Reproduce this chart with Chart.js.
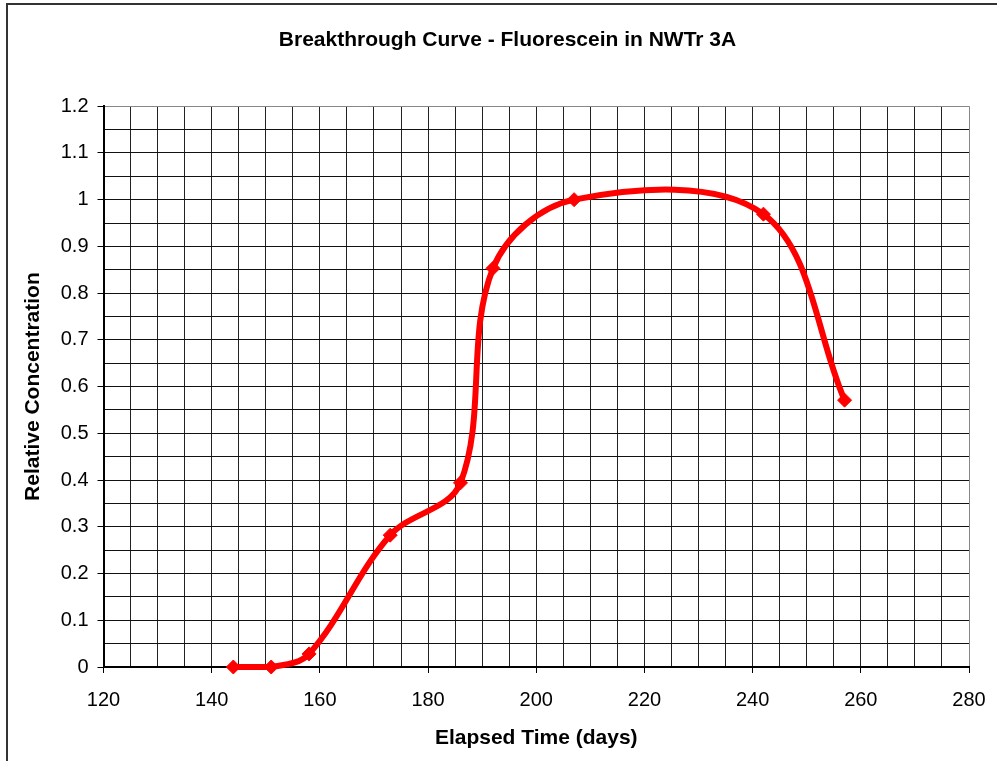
<!DOCTYPE html>
<html>
<head>
<meta charset="utf-8">
<script src="https://cdn.jsdelivr.net/npm/chart.js@4/dist/chart.umd.min.js"></script>
<style>
  html, body { margin: 0; padding: 0; background: #fff; overflow: hidden; }
  #frame {
    position: absolute; left: 6px; top: 3px; width: 1200px; height: 1200px;
    border-left: 2px solid #333; border-top: 2px solid #333;
  }
  #wrap { position: absolute; left: 0; top: 0; width: 1015px; height: 761px; }
</style>
</head>
<body>
<div id="frame"></div>
<div id="wrap"><canvas id="graph"></canvas></div>
<script>
// elapsed time (days) and relative concentration
const days = [144, 151, 158, 173, 186, 192, 207, 242, 257];
const concentration = [0, 0, 0.028, 0.282, 0.394, 0.853, 1.0, 0.969, 0.571];

const xMin = 120, xMax = 280, xStep = 5, xLabelStep = 20;
const yMin = 0, yMax = 1.2, yStep = 0.05, yLabelStep = 0.1;

const title = 'Breakthrough Curve - Fluorescein in NWTr 3A';
const xTitle = 'Elapsed Time (days)';
const yTitle = 'Relative Concentration';

const fontFamily = 'Liberation Sans, Arial';

function isMultiple(v, step) {
    const r = v / step;
    return Math.abs(r - Math.round(r)) < 1e-6;
}

window.addEventListener('DOMContentLoaded', () => {
    const graph = document.getElementById('graph');
    const points = days.map((d, i) => ({x: d, y: concentration[i]}));

    new Chart(graph, {
        type: 'scatter',
        data: {
            datasets: [{
                label: 'Fluorescein',
                data: points,
                showLine: true,
                tension: 0.35,
                clip: false,
                borderColor: '#ff0000',
                borderWidth: 6,
                pointStyle: 'rectRot',
                pointRadius: 7,
                pointBackgroundColor: '#ff0000',
                pointBorderColor: '#ff0000',
                pointBorderWidth: 1
            }]
        },
        options: {
            responsive: true,
            maintainAspectRatio: false,
            animation: false,
            layout: {padding: {left: 0, right: 0, top: 0, bottom: 10}},
            plugins: {
                legend: {display: false},
                tooltip: {enabled: false},
                title: {
                    display: true,
                    text: title,
                    color: '#000',
                    font: {family: fontFamily, size: 21, weight: 'bold'},
                    padding: {top: 28, bottom: 53}
                }
            },
            scales: {
                x: {
                    type: 'linear',
                    min: xMin,
                    max: xMax,
                    afterFit: (s) => { s.height = 84; },
                    ticks: {
                        stepSize: xStep,
                        autoSkip: false,
                        maxRotation: 0,
                        padding: 15,
                        color: '#000',
                        font: {family: fontFamily, size: 20},
                        callback: (v) => isMultiple(v, xLabelStep) ? String(v) : ''
                    },
                    grid: {
                        color: (ctx) => (ctx.tick && ctx.tick.value === xMax) ? '#888' : '#222',
                        lineWidth: 1,
                        tickLength: 6,
                        tickColor: (ctx) => (ctx.tick && isMultiple(ctx.tick.value, xLabelStep)) ? '#000' : 'rgba(0,0,0,0)'
                    },
                    border: {color: '#000', width: 2},
                    title: {
                        display: true,
                        text: xTitle,
                        color: '#000',
                        font: {family: fontFamily, size: 21, weight: 'bold'},
                        padding: {top: 0, bottom: 0}
                    }
                },
                y: {
                    type: 'linear',
                    min: yMin,
                    max: yMax,
                    afterFit: (s) => { s.width = 103.5; },
                    ticks: {
                        stepSize: yStep,
                        autoSkip: false,
                        padding: 9,
                        color: '#000',
                        font: {family: fontFamily, size: 20},
                        callback: (v) => isMultiple(v, yLabelStep) ? String(Math.round(v * 10) / 10) : ''
                    },
                    grid: {
                        color: (ctx) => (ctx.tick && Math.abs(ctx.tick.value - yMax) < 1e-6) ? '#888' : '#111',
                        lineWidth: 1,
                        tickLength: 6,
                        tickColor: (ctx) => (ctx.tick && isMultiple(ctx.tick.value, yLabelStep)) ? '#000' : 'rgba(0,0,0,0)'
                    },
                    border: {color: '#000', width: 2},
                    title: {
                        display: true,
                        text: yTitle,
                        color: '#000',
                        font: {family: fontFamily, size: 21, weight: 'bold'},
                        padding: {top: 21, bottom: 0}
                    }
                },
                // empty right-hand axis that only reserves space, so the title centres like the original
                spacer: {
                    type: 'linear',
                    position: 'right',
                    display: true,
                    afterFit: (s) => { s.width = 46; },
                    ticks: {display: false},
                    grid: {display: false},
                    border: {display: false}
                }
            }
        }
    });
});
</script>
</body>
</html>
